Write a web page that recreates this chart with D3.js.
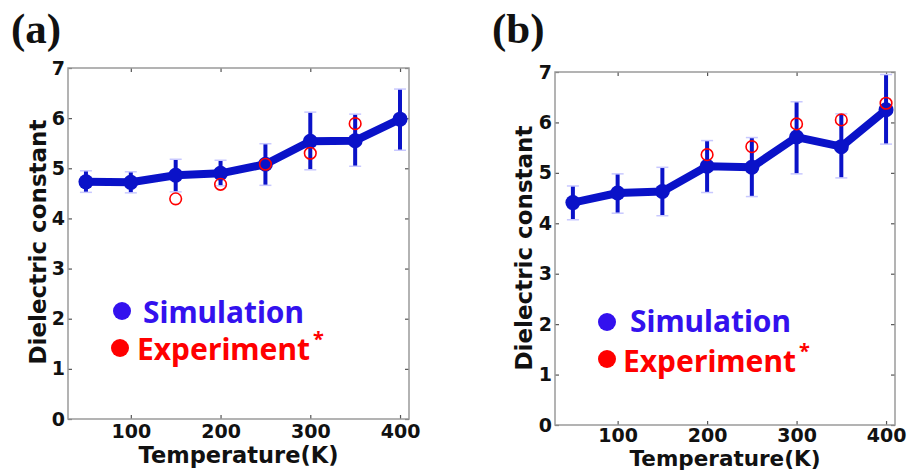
<!DOCTYPE html>
<html>
<head>
<meta charset="utf-8">
<script src="https://cdn.jsdelivr.net/npm/d3@7"></script>
<style>
  body { margin: 0; background: #fff; }
  svg { display: block; }
  .tick text { font-family: "DejaVu Sans", sans-serif; font-weight: bold; fill: #111; }
  .axis-label { font-family: "DejaVu Sans", sans-serif; font-weight: bold; fill: #111; }
  .panel-label { font-family: "Liberation Serif", "Times New Roman", serif; font-weight: bold; fill: #111; }
  .legend-text { font-family: "Noto Sans", sans-serif; font-weight: bold; }
</style>
</head>
<body>
<div id="chart"></div>
<script>
// temperatures (K)
const temps = [50, 100, 150, 200, 250, 300, 350, 400];

// panel (a)
const simA   = [4.73, 4.72, 4.86, 4.90, 5.08, 5.54, 5.55, 5.98];
const simAHi = [4.95, 4.93, 5.18, 5.16, 5.49, 6.12, 6.08, 6.58];
const simALo = [4.52, 4.51, 4.53, 4.65, 4.66, 4.97, 5.04, 5.36];
const expTempsA = [150, 200, 250, 300, 350];
const expA      = [4.39, 4.68, 5.08, 5.30, 5.89];

// panel (b)
const simB   = [4.41, 4.60, 4.63, 5.13, 5.11, 5.71, 5.52, 6.25];
const simBHi = [4.74, 4.98, 5.11, 5.64, 5.70, 6.41, 6.17, 6.95];
const simBLo = [4.07, 4.20, 4.15, 4.61, 4.53, 4.98, 4.90, 5.57];
const expTempsB = [200, 250, 300, 350, 400];
const expB      = [5.36, 5.52, 5.97, 6.05, 6.38];

const xTicks = [100, 200, 300, 400];
const yTicks = [0, 1, 2, 3, 4, 5, 6, 7];
const xDomain = [30, 410];
const yDomain = [0, 7];

const svg = d3.select('#chart').append('svg')
  .attr('width', 908)
  .attr('height', 470);

function drawPanel(cfg) {
  const x = d3.scaleLinear().domain(xDomain).range([cfg.left, cfg.right]);
  const y = d3.scaleLinear().domain(yDomain).range([cfg.bottom, cfg.top]);
  const g = svg.append('g');

  // inward ticks on all four sides
  const axes = [
    { a: d3.axisBottom(x), t: `translate(0,${cfg.bottom})`, labels: true },
    { a: d3.axisTop(x), t: `translate(0,${cfg.top})`, labels: false },
    { a: d3.axisLeft(y), t: `translate(${cfg.left},0)`, labels: true },
    { a: d3.axisRight(y), t: `translate(${cfg.right},0)`, labels: false }
  ];
  axes.forEach((ax, i) => {
    const isX = i < 2;
    const axis = ax.a.tickValues(isX ? xTicks : yTicks)
      .tickSizeInner(-4).tickSizeOuter(0)
      .tickPadding(isX ? cfg.xPad : 3)
      .tickFormat(ax.labels ? d3.format('d') : '');
    const ag = g.append('g').attr('transform', ax.t).call(axis);
    ag.select('.domain').remove();
    ag.selectAll('.tick line').attr('stroke', '#555').attr('stroke-width', 1.2);
    ag.selectAll('.tick text').style('font-size', '19px');
  });

  g.append('rect')
    .attr('x', cfg.left).attr('y', cfg.top)
    .attr('width', cfg.right - cfg.left).attr('height', cfg.bottom - cfg.top)
    .attr('fill', 'none').attr('stroke', '#9a9a9a').attr('stroke-width', 1.5);

  const pts = temps.map((t, i) => ({ t, v: cfg.sim[i], hi: cfg.hi[i], lo: cfg.lo[i] }));

  // error bars
  g.selectAll('.err').data(pts).enter().append('line')
    .attr('x1', d => x(d.t)).attr('x2', d => x(d.t))
    .attr('y1', d => y(d.hi)).attr('y2', d => y(d.lo))
    .attr('stroke', '#0a12c8').attr('stroke-width', 4);
  ['hi', 'lo'].forEach(k => {
    g.selectAll('.cap-' + k).data(pts).enter().append('line')
      .attr('x1', d => x(d.t) - 6).attr('x2', d => x(d.t) + 6)
      .attr('y1', d => y(d[k])).attr('y2', d => y(d[k]))
      .attr('stroke', '#c8c8ff').attr('stroke-width', 1.5);
  });

  // simulation line
  g.append('path').datum(pts)
    .attr('d', d3.line().x(d => x(d.t)).y(d => y(d.v)))
    .attr('fill', 'none').attr('stroke', '#0a12c8').attr('stroke-width', 8)
    .attr('stroke-linejoin', 'round');
  g.selectAll('.sim').data(pts).enter().append('circle')
    .attr('cx', d => x(d.t)).attr('cy', d => y(d.v)).attr('r', 7.5)
    .attr('fill', '#0a12c8');

  // experiment points
  const ex = cfg.expT.map((t, i) => ({ t, v: cfg.exp[i] }));
  g.selectAll('.exp').data(ex).enter().append('circle')
    .attr('cx', d => x(d.t)).attr('cy', d => y(d.v)).attr('r', 5.8)
    .attr('fill', 'none').attr('stroke', '#ff0000').attr('stroke-width', 1.6);

  // labels
  g.append('text').attr('class', 'axis-label')
    .attr('x', (cfg.left + cfg.right) / 2).attr('y', cfg.xLabelY)
    .attr('text-anchor', 'middle').style('font-size', cfg.xLabelSize)
    .text('Temperature(K)');
  g.append('text').attr('class', 'axis-label')
    .attr('transform', `translate(${cfg.yLabelX},${cfg.yLabelY}) rotate(-90)`)
    .attr('text-anchor', 'middle').style('font-size', '23px')
    .text('Dielectric constant');
  g.append('text').attr('class', 'panel-label')
    .attr('x', cfg.tagX).attr('y', 43).style('font-size', '43px')
    .text(cfg.tag);

  // legend
  const L = cfg.legend;
  g.append('circle').attr('cx', L.sx).attr('cy', L.sy).attr('r', 9).attr('fill', '#3311ee');
  g.append('text').attr('class', 'legend-text')
    .attr('x', L.stx).attr('y', L.sty).attr('fill', '#3311ee')
    .style('font-size', '30px').attr('textLength', 161).attr('lengthAdjust', 'spacingAndGlyphs')
    .text('Simulation');
  g.append('circle').attr('cx', L.ex).attr('cy', L.ey).attr('r', 9).attr('fill', '#ff0000');
  g.append('text').attr('class', 'legend-text')
    .attr('x', L.etx).attr('y', L.ety).attr('fill', '#ff0000')
    .style('font-size', '30px').attr('textLength', 173).attr('lengthAdjust', 'spacingAndGlyphs')
    .text('Experiment');
  g.append('text').attr('class', 'legend-text')
    .attr('x', L.etx + 176).attr('y', L.ety - 14).attr('fill', '#ff0000')
    .style('font-size', '20px').text('*');
}

drawPanel({
  left: 68, right: 409, top: 68, bottom: 419,
  sim: simA, hi: simAHi, lo: simALo, expT: expTempsA, exp: expA,
  tag: '(a)', tagX: 11, xPad: 6, xLabelY: 463, xLabelSize: '22.5px', yLabelX: 46, yLabelY: 242,
  legend: { sx: 122, sy: 311, stx: 143, sty: 323, ex: 120, ey: 348, etx: 137, ety: 360 }
});

drawPanel({
  left: 555, right: 895, top: 72, bottom: 425,
  sim: simB, hi: simBHi, lo: simBLo, expT: expTempsB, exp: expB,
  tag: '(b)', tagX: 492, xPad: 3, xLabelY: 466, xLabelSize: '21.5px', yLabelX: 532, yLabelY: 248,
  legend: { sx: 607, sy: 322, stx: 630, sty: 332, ex: 607, ey: 359, etx: 623, ety: 372 }
});
</script>
</body>
</html>
